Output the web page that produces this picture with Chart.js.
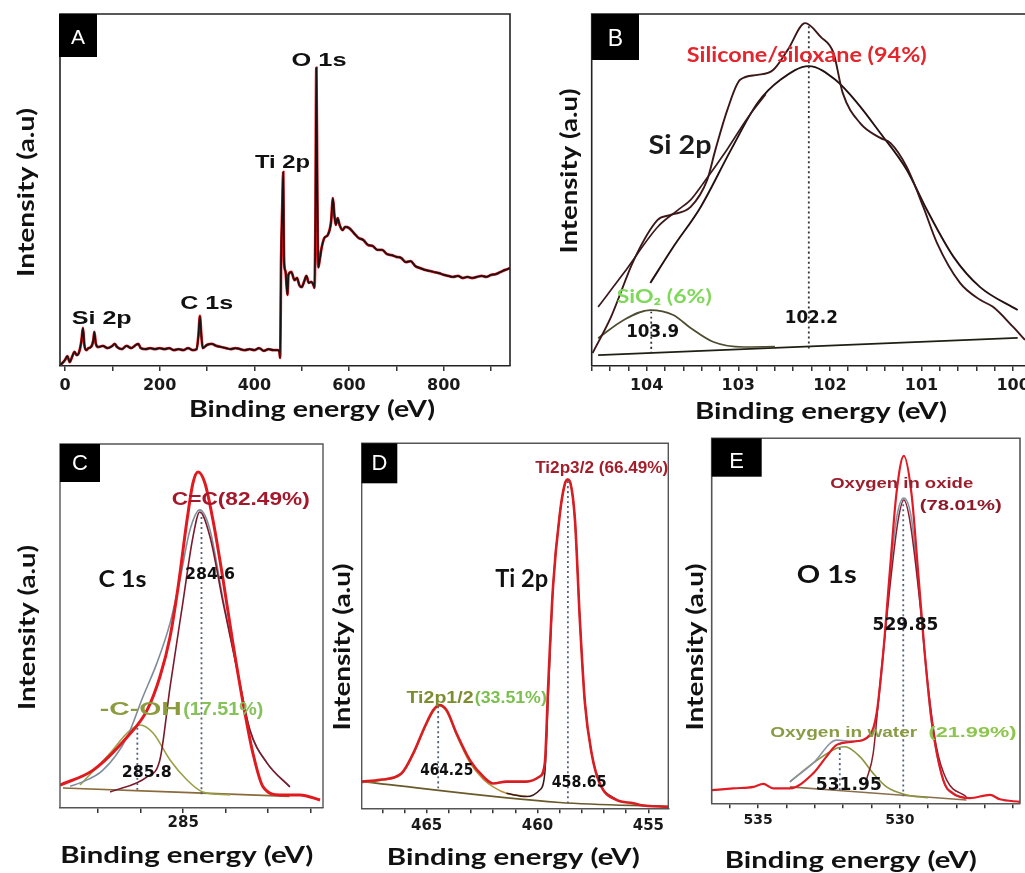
<!DOCTYPE html>
<html><head><meta charset="utf-8">
<script src="https://cdn.jsdelivr.net/npm/chart.js@4.4.1/dist/chart.umd.min.js"></script>
<style>
html,body{margin:0;padding:0;background:#fff;}
body{width:1025px;height:873px;position:relative;overflow:hidden;}
canvas{position:absolute;}
</style></head>
<body>
<canvas id="cA" width="540" height="432" style="left:0px;top:0px"></canvas>
<canvas id="cB" width="485" height="432" style="left:540px;top:0px"></canvas>
<canvas id="cC" width="340" height="453" style="left:0px;top:420px"></canvas>
<canvas id="cD" width="350" height="453" style="left:330px;top:420px"></canvas>
<canvas id="cE" width="345" height="453" style="left:680px;top:420px"></canvas>
<script>
// ---------------- DATA ----------------
// Panel A: survey spectrum
const surveyEnergy = [-10,-5,0,5,10,15,20,25,30,35,38,41,45,50,55,60,62,65,70,80,90,100,105,110,120,130,140,150,155,160,170,180,190,200,210,220,230,240,250,260,270,278,282,285,288,291,300,310,320,330,340,350,360,370,380,390,400,410,420,430,440,450,453,454.5,456.5,459,461,462.5,464,466,468,470,472,478,485,490,495,500,505,510,515,520,525,527,529,531,533,535,538,542,548,555,562,566,569,572,576,580,586,592,600,610,620,630,640,650,660,670,680,690,700,710,720,730,740,750,760,770,780,790,800,810,820,830,840,850,860,870,880,890,900,910,920,930,940];
const surveyIntensity = [0.3,0.9,1.7,2.8,1.1,2.6,4.0,3.1,4.0,7.4,10.8,6.0,4.5,5.1,5.4,7.4,9.7,6.5,5.4,5.7,5.1,5.7,6.3,5.4,4.8,5.7,5.1,6.0,6.3,5.1,4.8,5.1,4.8,5.1,4.8,5.1,4.5,4.8,4.5,5.1,4.5,4.8,8.8,14.2,8.8,5.1,6.0,6.3,5.7,5.4,5.1,4.8,5.1,4.8,4.5,4.8,4.5,5.1,4.3,4.8,4.5,4.5,4.0,2.3,30.0,45.0,55.1,32.0,27.8,26.7,23.0,20.2,25.9,26.7,24.4,25.0,23.0,22.4,23.9,25.6,23.6,23.9,23.0,22.2,40.0,84.7,50.0,28.0,30.1,33.5,36.4,37.2,40.9,47.7,42.9,40.1,42.0,40.1,38.6,39.5,39.2,37.8,36.4,35.8,34.4,34.1,33.0,33.0,31.8,31.5,31.0,30.7,29.5,29.8,28.4,27.8,27.3,27.0,26.7,26.4,25.9,25.6,25.3,25.6,25.0,25.3,25.0,25.3,25.6,25.3,25.9,26.1,26.7,27.3,27.8];
const surveyTicks = [0,100,200,300,400,500,600,700,800,900];
const surveyTickLabels = [0,200,400,600,800];

// Panel B: Si 2p
const siRawE = [104.59,104.39,104.14,103.88,103.74,103.52,103.34,103.25,103.12,102.98,102.79,102.62,102.46,102.27,102.10,101.96,101.86,101.67,101.45,101.34,101.16,100.98,100.83,100.58,100.36,100.22,100.0,99.87];
const siRawI = [3.7,13.9,30.1,41.5,42.9,45.2,52.8,61.4,72.7,81.3,82.7,84.1,89.8,97.4,93.5,88.9,77.6,69.0,64.8,63.4,56.5,45.2,34.9,23.6,18.8,16.8,11.1,7.4];
const siEnvE = [104.53,104.25,103.88,103.66,103.52,103.38,103.12,102.90,102.70];
const siEnvI = [16.8,26.4,39.5,44.3,47.2,52.0,61.6,70.4,77.2];
const siloxaneE = [103.96,103.71,103.41,103.08,102.79,102.54,102.23,101.94,101.70,101.45,101.16,100.94,100.65,100.36,99.95];
const siloxaneI = [23.6,33.8,45.2,61.4,74.7,81.3,85.2,81.3,74.7,66.2,55.7,44.3,31.0,22.4,15.9];
const sio2E = [104.53,104.25,103.96,103.71,103.52,103.27,102.94,102.6];
const sio2I = [7.9,13.1,15.9,14.5,10.8,6.8,5.4,5.5];
const siBaseE = [104.53,99.95];
const siBaseI = [3.1,8.0];
const siMarkE = [103.95,102.23];
const siMarkLow = [3.5,5.0];
const siMarkHigh = [16.0,97.0];
const siTicks = [100,100.2,100.4,100.6,100.8,101,101.2,101.4,101.6,101.8,102,102.2,102.4,102.6,102.8,103,103.2,103.4,103.6,103.8,104,104.2,104.4,104.6];
const siTickLabels = [100,101,102,103,104];

// Panel C: C 1s
const cEnvE = [287.90,287.12,286.32,285.85,285.55,285.31,285.12,284.91,284.77,284.65,284.49,284.30,284.06,283.83,283.59,283.36,283.12,282.72,282.25,281.78];
const cEnvI = [6.3,10.4,19.5,26.9,36.0,47.0,60.7,79.1,89.3,92.3,89.3,79.1,62.6,45.3,28.8,15.1,5.8,3.6,3.6,2.2];
const cRawE = [287.66,287.43,286.89,286.32,285.95,285.62,285.31,285.08,284.84,284.61,284.37,284.06,283.73,283.43,283.03,282.49];
const cRawI = [6.0,6.9,10.4,19.5,30.5,39.8,50.8,62.6,76.4,81.9,76.4,57.1,37.9,21.4,12.4,5.8];
const ccE = [286.72,285.86,285.55,285.31,285.01,284.77,284.61,284.37,284.06,283.73,283.43,283.03,282.49];
const ccI = [4.4,8.5,13.2,33.2,56.3,74.5,81.3,74.5,56.3,37.9,21.4,12.4,5.8];
const cohE = [287.43,286.72,286.32,286.02,285.71,285.31,284.91,284.54,283.9];
const cohI = [6.3,15.1,20.6,22.8,20.6,13.2,7.7,4.4,3.6];
const cBaseE = [287.83,282.5];
const cBaseI = [5.5,3.2];
const cMarkE = [284.57,286.08];
const cMarkLow = [3.8,5.0];
const cMarkHigh = [81.0,22.8];
const cTicks = [282,283,284,285,286,287];
const cTickLabels = [285];

// Panel D: Ti 2p
const tiEnvE = [467.93,467.1,466.13,465.6,465.08,464.70,464.43,464.10,463.65,463.05,462.45,462.0,461.4,460.5,459.9,459.67,459.52,459.3,458.99,458.76,458.64,458.51,458.31,458.09,457.86,457.56,457.19,456.44,455.68,455.38,454.1];
const tiEnvI = [7.3,7.8,9.6,15.1,22.4,26.9,28.3,26.9,20.5,13.2,8.7,6.8,7.3,7.3,8.7,12.3,33.3,60.7,80.8,89.0,90.1,89.0,79.0,51.6,28.8,15.1,6.8,2.3,1.4,0.9,0.4];
const ti32E = [461.4,460.5,459.9,459.67,459.52,459.3,458.99,458.76,458.64,458.51,458.31,458.09,457.86,457.56,457.19,456.44];
const ti32I = [4.1,3.2,5.0,9.6,30.0,60.7,80.8,89.0,90.1,89.0,79.0,51.6,28.8,15.1,6.8,2.3];
const ti12E = [467.93,467.1,466.13,465.6,465.08,464.70,464.43,464.10,463.65,463.05,462.45,462.0,461.4,460.5];
const ti12I = [7.0,7.6,9.4,14.8,22.0,26.5,28.0,26.5,20.0,12.5,8.0,5.9,4.1,3.3];
const tiBaseE = [467.93,459,454.1];
const tiBaseI = [7.3,1.6,0.5];
const tiMarkE = [464.48,458.63];
const tiMarkLow = [5.5,1.4];
const tiMarkHigh = [28.3,90.0];
const tiTicks = [455,456,457,458,459,460,461,462,463,464,465,466,467];
const tiTickLabels = [455,460,465];

// Panel E: O 1s
const oRawE = [536.64,535.88,535.17,534.82,534.47,533.88,533.06,532.59,532.23,531.65,531.06,530.82,530.59,530.35,530.12,529.86,529.59,529.35,529.12,528.88,528.47,528.12,527.53,526.82,526.47,525.76];
const oRawI = [3.6,4.1,4.5,5.3,4.1,4.1,8.2,12.8,16.0,16.9,18.7,24.7,41.1,63.9,84.9,95.2,84.9,63.0,41.1,22.8,6.4,2.7,1.4,2.3,1.1,0.4];
const oEnvE = [533.88,533.06,532.23,531.65,531.06,530.82,530.59,530.35,530.12,529.86,529.59,529.35,529.12,528.88,528.47,528.12,527.65];
const oEnvI = [5.9,11.0,17.3,17.0,18.3,24.0,40.0,62.0,78.0,83.6,78.0,60.0,40.0,22.0,6.4,2.5,1.5];
const waterE = [533.88,533.06,532.23,531.94,531.41,530.94,530.47,529.76,529.0];
const waterI = [5.9,11.0,15.1,15.5,12.8,8.2,4.5,2.3,1.5];
const oxideE = [531.18,530.94,530.71,530.35,530.06,529.86,529.65,529.29,529.0,528.71,528.35,527.65];
const oxideI = [6.4,13.7,31.9,59.3,77.6,83.1,77.6,54.8,31.9,15.5,6.4,1.8];
const oBaseE = [533.88,527.65];
const oBaseI = [4.5,0.9];
const oMarkE = [529.88,532.12];
const oMarkLow = [1.9,3.6];
const oMarkHigh = [83.0,16.4];
const oTicks = [526,527,528,529,530,531,532,533,534,535,536];
const oTickLabels = [530,535];

// ---------------- HELPERS ----------------
const zip = (xs, ys) => xs.map((x, i) => ({x, y: ys[i]}));
function line(xs, ys, color, width, extra) {
  return Object.assign({data: zip(xs, ys), borderColor: color, borderWidth: width,
    pointRadius: 0, fill: false, tension: 0.4, cubicInterpolationMode: 'monotone'}, extra || {});
}
function marks(es, lo, hi, color) {
  return es.map((e, i) => line([e, e], [lo[i], hi[i]], color, 1.8, {borderDash: [2, 3], tension: 0}));
}
const near = (v, list) => list.some(t => Math.abs(t - v) < 1e-6);

const decor = {
  id: 'decor',
  afterDraw(chart, args, o) {
    const ctx = chart.ctx, a = chart.chartArea;
    ctx.save();
    ctx.strokeStyle = o.frameColor; ctx.lineWidth = o.frameWidth;
    ctx.beginPath();
    ctx.moveTo(a.left, a.bottom); ctx.lineTo(a.left, a.top); ctx.lineTo(a.right, a.top);
    if (o.rightBorder) ctx.lineTo(a.right, a.bottom);
    ctx.stroke();
    const L = o.letter;
    ctx.fillStyle = '#000';
    ctx.fillRect(L.x0 - o.ox, L.y0 - o.oy, L.x1 - L.x0, L.y1 - L.y0);
    ctx.fillStyle = '#fff'; ctx.font = L.font; ctx.textAlign = 'center'; ctx.textBaseline = 'alphabetic';
    ctx.fillText(L.t, (L.x0 + L.x1) / 2 - o.ox, L.base - o.oy);
    o.texts.forEach(t => {
      ctx.save();
      ctx.font = t.f; ctx.fillStyle = t.c || '#111';
      ctx.textAlign = 'center'; ctx.textBaseline = 'alphabetic';
      const m = ctx.measureText(t.t).width;
      const sx = t.w ? t.w / m : 1;
      ctx.translate(t.x - o.ox, t.y - o.oy);
      if (t.rot) ctx.rotate(-Math.PI / 2);
      ctx.scale(sx, 1);
      ctx.fillText(t.t, 0, 0);
      ctx.restore();
    });
    ctx.restore();
  }
};

function makeChart(id, c) {
  return new Chart(document.getElementById(id), {
    type: 'line',
    data: {datasets: c.datasets},
    plugins: [decor],
    options: {
      responsive: false, animation: false, devicePixelRatio: 1,
      layout: {padding: c.pad},
      plugins: {legend: {display: false}, tooltip: {enabled: false}, decor: c.decor},
      scales: {
        x: {
          type: 'linear', min: c.min, max: c.max, reverse: c.reverse,
          afterBuildTicks: s => { s.ticks = c.ticks.map(v => ({value: v})); },
          afterFit: s => { s.height = c.axisH; s.paddingLeft = 0; s.paddingRight = 0; },
          ticks: {autoSkip: false, maxRotation: 0, minRotation: 0, padding: c.tickPad, color: '#1a1a1a',
            font: {family: 'DejaVu Sans', weight: 'bold', size: c.tickSize},
            callback: v => near(v, c.labels) ? String(v) : ''},
          grid: {drawOnChartArea: false, drawTicks: true, tickLength: 5, color: '#333', lineWidth: 1.5},
          border: {display: true, color: c.decor.frameColor, width: c.decor.frameWidth}
        },
        y: {display: false, min: 0, max: 100}
      }
    }
  });
}

const titleFont = 'bold 22px Lato';
const yTitleFont = 'bold 23px Lato';
const num = s => 'bold ' + s + 'px "DejaVu Sans"';
const tag = s => 'bold ' + s + 'px "Liberation Sans"';

// ---------------- PANEL A ----------------
makeChart('cA', {
  min: -10.5, max: 940, reverse: false, ticks: surveyTicks, labels: surveyTickLabels,
  pad: {left: 60, top: 14, right: 30, bottom: 0}, axisH: 66, tickPad: 5, tickSize: 16,
  datasets: [
    line(surveyEnergy, surveyIntensity, '#141414', 1.7, {tension: 0}),
    line(surveyEnergy, surveyIntensity, '#e8141c', 2.8, {tension: 0})
  ],
  decor: {ox: 0, oy: 0, frameColor: '#222', frameWidth: 1.6, rightBorder: true,
    letter: {t: 'A', x0: 59, y0: 14, x1: 97, y1: 57, base: 43.5, font: '21px "Liberation Sans"'},
    texts: [
      {t: 'O 1s', x: 319, y: 66, w: 55, f: 'bold 19px "Liberation Sans"'},
      {t: 'Ti 2p', x: 282.5, y: 168, w: 55, f: 'bold 19px "Liberation Sans"'},
      {t: 'C 1s', x: 206.7, y: 308.5, w: 53, f: 'bold 19px "Liberation Sans"'},
      {t: 'Si 2p', x: 101.7, y: 323.5, w: 60, f: 'bold 19px "Liberation Sans"'},
      {t: 'Binding energy (eV)', x: 312, y: 417, w: 246, f: titleFont},
      {t: 'Intensity (a.u)', x: 33.5, y: 192.5, w: 169, rot: true, f: yTitleFont}
    ]}
});

// ---------------- PANEL B ----------------
makeChart('cB', {
  min: 99.87, max: 104.6, reverse: true, ticks: siTicks, labels: siTickLabels,
  pad: {left: 51.7, top: 14, right: 0, bottom: 0}, axisH: 66, tickPad: 5, tickSize: 16,
  datasets: [
    ...marks(siMarkE, siMarkLow, siMarkHigh, '#333'),
    line(siRawE, siRawI, '#3b1718', 1.9),
    line(siEnvE, siEnvI, '#3a1a1c', 1.7),
    line(siloxaneE, siloxaneI, '#241010', 1.9),
    line(sio2E, sio2I, '#4d4b30', 1.7),
    line(siBaseE, siBaseI, '#1f1f14', 1.9, {tension: 0})
  ],
  decor: {ox: 540, oy: 0, frameColor: '#222', frameWidth: 1.6, rightBorder: false,
    letter: {t: 'B', x0: 592, y0: 14, x1: 639, y1: 60, base: 45.5, font: '23px "Liberation Sans"'},
    texts: [
      {t: 'Silicone/siloxane (94%)', x: 806.7, y: 61.7, w: 240, f: 'bold 20px Lato', c: '#e3262d'},
      {t: 'Si 2p', x: 680, y: 154, w: 63, f: 'bold 26px Lato', c: '#1a1a1a'},
      {t: 'SiO\u2082 (6%)', x: 664.2, y: 303.3, w: 95, f: 'bold 19px Lato', c: '#7fd85a'},
      {t: '103.9', x: 652.7, y: 337.3, w: 53, f: num(17)},
      {t: '102.2', x: 811.3, y: 322.7, w: 53, f: num(17)},
      {t: 'Binding energy (eV)', x: 821, y: 419, w: 252, f: titleFont},
      {t: 'Intensity (a.u)', x: 576.5, y: 171, w: 165, rot: true, f: yTitleFont}
    ]}
});

// ---------------- PANEL C ----------------
makeChart('cC', {
  min: 281.71, max: 287.90, reverse: true, ticks: cTicks, labels: cTickLabels,
  pad: {left: 60, top: 24, right: 17, bottom: 0}, axisH: 65, tickPad: 1, tickSize: 15,
  datasets: [
    ...marks(cMarkE, cMarkLow, cMarkHigh, '#56607a'),
    line(cEnvE, cEnvI, '#e01a1f', 3.0),
    line(ccE, ccI, '#7a1a2c', 1.6),
    line(cRawE, cRawI, '#7f8c9a', 1.6),
    line(cohE, cohI, '#9aa044', 1.6),
    line(cBaseE, cBaseI, '#8a6a3a', 1.6, {tension: 0})
  ],
  decor: {ox: 0, oy: 420, frameColor: '#555', frameWidth: 1.4, rightBorder: true,
    letter: {t: 'C', x0: 60, y0: 444, x1: 100, y1: 482, base: 470, font: '22px "Liberation Sans"'},
    texts: [
      {t: 'C=C(82.49%)', x: 240.8, y: 505, w: 138, f: tag(18), c: '#a5182b'},
      {t: 'C 1s', x: 122.5, y: 586.7, w: 48, f: 'bold 23px Lato'},
      {t: '284.6', x: 210, y: 579.3, w: 50, f: num(15)},
      {t: '-C-OH', x: 140.8, y: 715, w: 82, f: tag(18), c: '#8d9b3f'},
      {t: '(17.51%)', x: 223.3, y: 715, w: 80, f: tag(18), c: '#86c15a'},
      {t: '285.8', x: 146.7, y: 776.7, w: 50, f: num(16)},
      {t: 'Binding energy (eV)', x: 186.7, y: 863.3, w: 253, f: titleFont},
      {t: 'Intensity (a.u)', x: 35, y: 627.5, w: 165, rot: true, f: yTitleFont}
    ]}
});

// ---------------- PANEL D ----------------
makeChart('cD', {
  min: 454.1, max: 467.93, reverse: true, ticks: tiTicks, labels: tiTickLabels,
  pad: {left: 31.7, top: 23.3, right: 11.7, bottom: 0}, axisH: 64.7, tickPad: 3.5, tickSize: 15,
  datasets: [
    ...marks(tiMarkE, tiMarkLow, tiMarkHigh, '#56607a'),
    line(tiEnvE, tiEnvI, '#d81e22', 2.6),
    line(ti32E, ti32I, '#3a1616', 1.5),
    line(ti12E, ti12I, '#b5913a', 1.5),
    line(tiBaseE, tiBaseI, '#6a5a2a', 1.6, {tension: 0})
  ],
  decor: {ox: 330, oy: 420, frameColor: '#555', frameWidth: 1.4, rightBorder: true,
    letter: {t: 'D', x0: 361.7, y0: 443.3, x1: 397.3, y1: 483.3, base: 470, font: '22px "Liberation Sans"'},
    texts: [
      {t: 'Ti2p3/2 (66.49%)', x: 601.7, y: 473, w: 133, f: tag(16), c: '#a31e2b'},
      {t: 'Ti 2p', x: 521.7, y: 586.7, w: 53, f: 'bold 24px Lato'},
      {t: 'Ti2p1/2', x: 440, y: 703.3, w: 67, f: tag(16), c: '#7d8c2e'},
      {t: '(33.51%)', x: 510.8, y: 703.3, w: 72, f: tag(16), c: '#7cbf4e'},
      {t: '464.25', x: 446.7, y: 775, w: 53, f: num(16)},
      {t: '458.65', x: 579.2, y: 786.7, w: 55, f: num(16)},
      {t: 'Binding energy (eV)', x: 513.3, y: 865, w: 253, f: titleFont},
      {t: 'Intensity (a.u)', x: 350, y: 647, w: 167, rot: true, f: yTitleFont}
    ]}
});

// ---------------- PANEL E ----------------
makeChart('cE', {
  min: 525.76, max: 536.64, reverse: true, ticks: oTicks, labels: oTickLabels,
  pad: {left: 31.7, top: 18.3, right: 5, bottom: 0}, axisH: 69.7, tickPad: 3.3, tickSize: 14,
  datasets: [
    ...marks(oMarkE, oMarkLow, oMarkHigh, '#56607a'),
    line(oRawE, oRawI, '#e01b24', 2.2),
    line(oxideE, oxideI, '#8b1c2c', 1.5),
    line(oEnvE, oEnvI, '#8a93a3', 1.6),
    line(waterE, waterI, '#8c9440', 1.6),
    line(oBaseE, oBaseI, '#8a6e4a', 1.6, {tension: 0})
  ],
  decor: {ox: 680, oy: 420, frameColor: '#555', frameWidth: 1.6, rightBorder: true,
    letter: {t: 'E', x0: 711.7, y0: 438.3, x1: 761.7, y1: 476.7, base: 468.3, font: '22px "Liberation Sans"'},
    texts: [
      {t: 'Oxygen in oxide', x: 901.7, y: 488.3, w: 143, f: tag(14), c: '#9c1f2e'},
      {t: '(78.01%)', x: 960.8, y: 510, w: 82, f: tag(15), c: '#8c1a29'},
      {t: 'O 1s', x: 826.7, y: 583.3, w: 60, f: 'bold 25px Lato'},
      {t: '529.85', x: 905.5, y: 630, w: 66, f: num(17)},
      {t: 'Oxygen in water', x: 843.7, y: 737, w: 147, f: tag(14), c: '#8a9b45'},
      {t: '(21.99%)', x: 972.5, y: 737, w: 88, f: tag(15), c: '#8ec54e'},
      {t: '531.95', x: 848.8, y: 790, w: 66, f: num(17)},
      {t: 'Binding energy (eV)', x: 850.8, y: 868, w: 252, f: titleFont},
      {t: 'Intensity (a.u)', x: 703, y: 647, w: 167, rot: true, f: yTitleFont}
    ]}
});
</script>
</body></html>
